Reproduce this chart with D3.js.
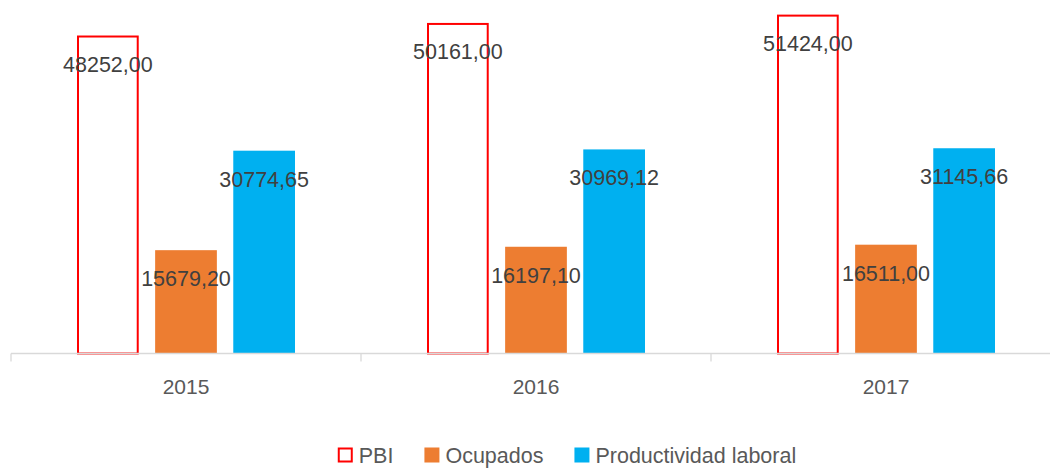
<!DOCTYPE html>
<html>
<head>
<meta charset="utf-8">
<script src="https://cdn.jsdelivr.net/npm/d3@7"></script>
<style>
html,body{margin:0;padding:0;background:#fff;}
svg{display:block;}
</style>
</head>
<body>
<svg id="chart" width="1050" height="468"></svg>
<script>
const years = ["2015", "2016", "2017"];
const seriesNames = ["PBI", "Ocupados", "Productividad laboral"];
const pbi = [48252.00, 50161.00, 51424.00];
const ocupados = [15679.20, 16197.10, 16511.00];
const productividad = [30774.65, 30969.12, 31145.66];
const seriesValues = [pbi, ocupados, productividad];

const svg = d3.select("#chart");
const font = "'Liberation Sans', Arial, sans-serif";

const baseY = 353.5;
const y = d3.scaleLinear().domain([0, 60000]).range([baseY, baseY - 60000 * 0.00659]);
const x0 = d3.scaleBand().domain(years).range([11, 1061]).paddingInner(0).paddingOuter(0);
const bw0 = x0.bandwidth();
const x1 = d3.scaleBand().domain(seriesNames).range([66, bw0 - 66]).paddingInner(0.21).paddingOuter(0);

const styles = {
  "PBI": {fill: "#FFFFFF", stroke: "#FF0000", sw: 2},
  "Ocupados": {fill: "#ED7D31", stroke: "none", sw: 0},
  "Productividad laboral": {fill: "#00B0F0", stroke: "none", sw: 0}
};

const data = [];
years.forEach((yr, i) => {
  seriesNames.forEach((s, j) => {
    data.push({year: yr, series: s, value: seriesValues[j][i]});
  });
});

// bars
const g = svg.append("g");
g.selectAll("rect.bar").data(data).enter().append("rect")
  .attr("class", "bar")
  .attr("x", d => x0(d.year) + x1(d.series) + (styles[d.series].sw / 2))
  .attr("y", d => y(d.value) + styles[d.series].sw / 2)
  .attr("width", d => x1.bandwidth() - styles[d.series].sw)
  .attr("height", d => baseY - y(d.value) - styles[d.series].sw / 2)
  .attr("fill", d => styles[d.series].fill)
  .attr("stroke", d => styles[d.series].stroke)
  .attr("stroke-width", d => styles[d.series].sw);

// axis
const ax = svg.append("g").attr("transform", `translate(0,${baseY})`);
ax.append("line").attr("x1", 11).attr("x2", 1061).attr("y1", 0).attr("y2", 0)
  .attr("stroke", "#D9D9D9").attr("stroke-width", 1.3);
const bounds = years.map(yr => x0(yr)).concat([x0(years[years.length - 1]) + bw0]);
ax.selectAll("line.tick").data(bounds).enter().append("line")
  .attr("class", "tick")
  .attr("x1", d => d).attr("x2", d => d).attr("y1", 0).attr("y2", 8)
  .attr("stroke", "#D9D9D9").attr("stroke-width", 1.3);
ax.selectAll("text.cat").data(years).enter().append("text")
  .attr("class", "cat")
  .attr("x", d => x0(d) + bw0 / 2)
  .attr("y", 40)
  .attr("text-anchor", "middle")
  .attr("font-family", font)
  .attr("font-size", 21)
  .attr("fill", "#595959")
  .text(d => d);

// value labels
const fmt = v => v.toFixed(2).replace(".", ",");
g.selectAll("text.val").data(data).enter().append("text")
  .attr("class", "val")
  .attr("x", d => x0(d.year) + x1(d.series) + x1.bandwidth() / 2)
  .attr("y", d => y(d.value) + 36)
  .attr("text-anchor", "middle")
  .attr("font-family", font)
  .attr("font-size", 21.5)
  .attr("fill", "#404040")
  .text(d => fmt(d.value));

// legend
const leg = svg.append("g");
const sq = 15, gapT = 6, gapItem = 31;
let cx = 0;
seriesNames.forEach(s => {
  const it = leg.append("g");
  const st = styles[s];
  it.append("rect")
    .attr("x", st.sw / 2).attr("y", -sq / 2 + st.sw / 2)
    .attr("width", sq - st.sw).attr("height", sq - st.sw)
    .attr("fill", st.fill).attr("stroke", st.stroke).attr("stroke-width", st.sw);
  const t = it.append("text")
    .attr("x", sq + gapT).attr("y", 7.5)
    .attr("font-family", font).attr("font-size", 21.5)
    .attr("fill", "#595959").text(s);
  const w = sq + gapT + t.node().getComputedTextLength();
  it.attr("transform", `translate(${cx},0)`);
  cx += w + gapItem;
});
const totalW = cx - gapItem;
leg.attr("transform", `translate(${567 - totalW / 2},455)`);
</script>
</body>
</html>
